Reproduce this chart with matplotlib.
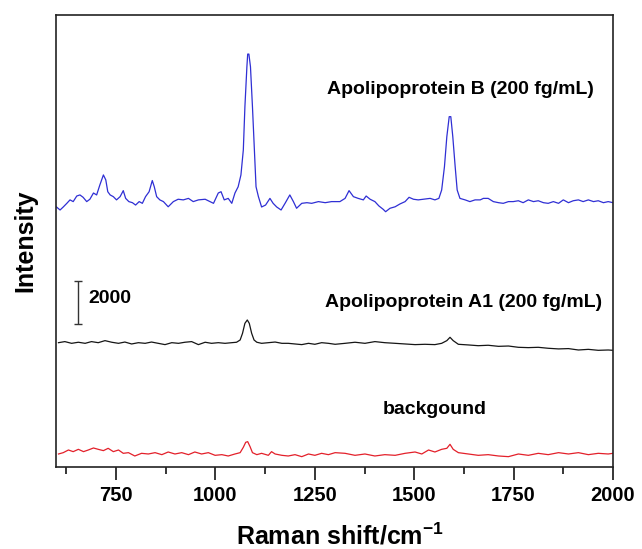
"""Stacked SERS spectra: apolipoprotein B, apolipoprotein A1 and background."""

import matplotlib
matplotlib.use("Agg")
import matplotlib.pyplot as plt

plt.rcParams["font.family"] = ["Liberation Sans", "DejaVu Sans"]
plt.rcParams["font.weight"] = "bold"
plt.rcParams["mathtext.fontset"] = "custom"
plt.rcParams["mathtext.rm"] = "Liberation Sans:bold"
plt.rcParams["mathtext.default"] = "regular"

# Raman shift (cm^-1) and intensity (counts)
apob_shift = [600, 609, 617, 626, 634, 642, 651, 659, 667, 676, 684, 693, 701, 709, 718,
              724, 729, 735, 743, 751, 760, 768, 774, 782, 791, 799, 808, 816, 824, 833,
              841, 846, 852, 860, 869, 881, 894, 906, 919, 932, 944, 957, 974, 986, 995,
              1007, 1014, 1022, 1032, 1041, 1049, 1057, 1064, 1070, 1074, 1079, 1081, 1084,
              1088, 1093, 1098, 1102, 1108, 1116, 1126, 1137, 1145, 1154, 1165, 1175, 1187,
              1196, 1204, 1217, 1230, 1242, 1259, 1276, 1292, 1313, 1326, 1336, 1347, 1359,
              1372, 1379, 1389, 1401, 1411, 1422, 1428, 1439, 1452, 1464, 1477, 1487, 1498,
              1510, 1523, 1540, 1552, 1562, 1569, 1576, 1582, 1588, 1592, 1597, 1603, 1608,
              1615, 1628, 1640, 1653, 1666, 1674, 1686, 1699, 1712, 1724, 1737, 1749, 1762,
              1774, 1787, 1800, 1812, 1825, 1837, 1850, 1863, 1875, 1888, 1900, 1913, 1925,
              1938, 1951, 1963, 1976, 1988, 2000]
apob_int = [12090, 11950, 12090, 12260, 12420, 12340, 12600, 12650, 12540, 12340, 12450,
            12740, 12650, 13110, 13580, 13350, 12800, 12650, 12570, 12420, 12570, 12850,
            12490, 12340, 12290, 12180, 12340, 12260, 12570, 12800, 13320, 13030, 12570,
            12420, 12340, 12100, 12340, 12450, 12420, 12490, 12340, 12420, 12450, 12340,
            12260, 12740, 12800, 12420, 12490, 12260, 12740, 13030, 13580, 14740, 16750,
            18610, 19200, 19200, 18610, 16750, 14740, 13030, 12570, 12090, 12180, 12490,
            12260, 12090, 11950, 12260, 12650, 12340, 12030, 12260, 12290, 12260, 12340,
            12290, 12340, 12340, 12490, 12850, 12570, 12490, 12420, 12600, 12450, 12340,
            12140, 11980, 11870, 12030, 12100, 12230, 12340, 12540, 12450, 12420, 12450,
            12490, 12420, 12490, 12880, 13960, 15360, 16290, 16290, 15360, 13960, 12880,
            12490, 12420, 12340, 12420, 12420, 12490, 12490, 12340, 12290, 12260, 12340,
            12340, 12380, 12290, 12420, 12340, 12380, 12290, 12260, 12340, 12260, 12420,
            12290, 12380, 12420, 12340, 12420, 12340, 12380, 12290, 12340, 12290]

apoa1_shift = [605, 621, 638, 655, 672, 688, 705, 722, 739, 756, 772, 789, 806, 823, 839,
               856, 873, 890, 907, 923, 940, 957, 974, 990, 1007, 1024, 1041, 1053, 1062,
               1068, 1074, 1080, 1085, 1091, 1097, 1104, 1116, 1133, 1150, 1167, 1183, 1200,
               1217, 1234, 1250, 1267, 1284, 1301, 1326, 1351, 1376, 1401, 1426, 1452, 1477,
               1502, 1527, 1552, 1569, 1582, 1590, 1598, 1611, 1636, 1661, 1686, 1712, 1737,
               1762, 1787, 1812, 1837, 1863, 1888, 1913, 1938, 1963, 1988, 2000]
apoa1_int = [5780, 5830, 5750, 5800, 5750, 5830, 5780, 5875, 5800, 5750, 5810, 5720, 5780,
             5750, 5810, 5750, 5690, 5780, 5750, 5800, 5830, 5690, 5800, 5750, 5780, 5750,
             5780, 5800, 5905, 6215, 6680, 6835, 6680, 6215, 5905, 5800, 5750, 5780, 5810,
             5750, 5750, 5720, 5690, 5750, 5705, 5780, 5750, 5705, 5750, 5800, 5750, 5830,
             5780, 5750, 5720, 5690, 5705, 5690, 5750, 5875, 6030, 5875, 5705, 5675, 5640,
             5660, 5610, 5625, 5565, 5550, 5565, 5520, 5490, 5505, 5440, 5470, 5425, 5440,
             5425]

bg_shift = [605, 617, 630, 642, 655, 668, 680, 693, 705, 718, 730, 743, 756, 768, 781, 797,
            814, 831, 848, 865, 881, 898, 915, 932, 948, 965, 982, 999, 1016, 1032, 1049,
            1062, 1070, 1076, 1081, 1087, 1093, 1104, 1116, 1133, 1141, 1150, 1167, 1183,
            1200, 1217, 1234, 1250, 1267, 1284, 1301, 1326, 1351, 1376, 1401, 1426, 1452,
            1477, 1502, 1519, 1536, 1552, 1569, 1582, 1590, 1598, 1611, 1636, 1661, 1686,
            1712, 1737, 1762, 1787, 1812, 1837, 1863, 1888, 1913, 1938, 1963, 1988, 2000]
bg_int = [604, 666, 790, 713, 821, 713, 790, 883, 821, 760, 868, 713, 790, 635, 666, 511,
          635, 604, 666, 573, 697, 604, 666, 573, 697, 604, 666, 542, 573, 511, 604, 666,
          914, 1147, 1178, 945, 666, 573, 635, 542, 713, 604, 542, 511, 573, 480, 604, 542,
          635, 573, 666, 635, 542, 604, 511, 573, 542, 635, 697, 604, 790, 697, 821, 868,
          1054, 821, 666, 604, 542, 573, 511, 480, 604, 542, 635, 573, 666, 604, 666, 573,
          635, 604, 635]

spectra = [
    (apob_shift, apob_int, "#2f2fd4"),
    (apoa1_shift, apoa1_int, "#151515"),
    (bg_shift, bg_int, "#e3202a"),
]

labels = ["Apolipoprotein B (200 fg/mL)", "Apolipoprotein A1 (200 fg/mL)", "backgound"]
label_x = [1615, 1623, 1552]
label_y = [17530, 7630, 2650]

scale_x = 653
scale_center = 7650
scale_size = 2000

fig = plt.figure(figsize=(6.42, 5.49), dpi=100)
ax = fig.add_axes([0.088, 0.1494, 0.8668, 0.8233])

for shift, intensity, color in spectra:
    ax.plot(shift, intensity, color=color, lw=0.9)

for text, x, y in zip(labels, label_x, label_y):
    ax.text(x, y, text, ha="center", va="center", fontsize=14, fontweight="bold")

# intensity scale bar
ax.errorbar([scale_x], [scale_center], yerr=[scale_size / 2], color="#333333",
            lw=1.0, capsize=3, capthick=1.0)
ax.text(scale_x + 26, scale_center + 200, str(scale_size), ha="left", va="center",
        fontsize=14, fontweight="bold")

ax.set_xlim(600, 2000)
ax.set_ylim(0, 21018)
ax.set_xticks([750, 1000, 1250, 1500, 1750, 2000])
ax.set_xticks([625, 875, 1125, 1375, 1625, 1875], minor=True)
ax.set_yticks([])
ax.tick_params(axis="x", which="major", direction="out", length=9, width=1.1,
               labelsize=14.5, pad=5)
ax.tick_params(axis="x", which="minor", direction="out", length=5, width=1.1)
for spine in ax.spines.values():
    spine.set_linewidth(1.2)
    spine.set_color("#222222")

ax.set_xlabel("Raman shift/cm$^{-1}$", fontsize=18, fontweight="bold")
ax.set_ylabel("Intensity", fontsize=18, fontweight="bold")
ax.xaxis.set_label_coords(0.51, -0.125)
ax.yaxis.set_label_coords(-0.035, 0.5)

fig.savefig("out.png", dpi=100)
plt.close(fig)
